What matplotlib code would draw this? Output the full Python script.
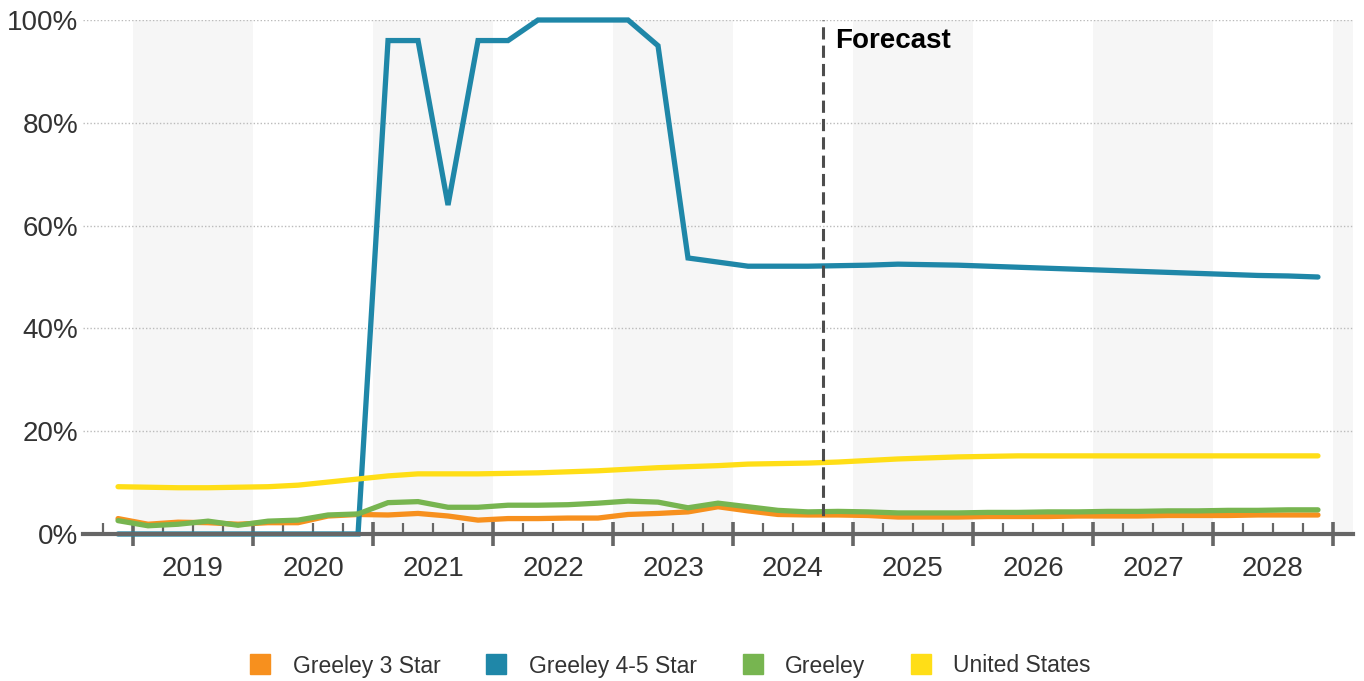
import matplotlib
matplotlib.use("Agg")
import matplotlib.pyplot as plt
from matplotlib.lines import Line2D
from matplotlib.ticker import FixedLocator, FixedFormatter, NullFormatter
import numpy as np
import pandas as pd

plt.rcParams['font.family'] = ['Liberation Sans', 'DejaVu Sans']

# Quarterly series, 2018 Q4 through 2028 Q4 (percent)
quarters = pd.period_range('2018Q4', '2028Q4', freq='Q')

greeley_3_star = [3.0, 1.9, 2.3, 2.2, 1.9, 2.2, 2.2, 3.5, 3.8, 3.7,
                  4.0, 3.5, 2.7, 3.0, 3.0, 3.1, 3.1, 3.8, 4.0, 4.3,
                  5.3, 4.5, 3.8, 3.7, 3.7, 3.6, 3.3, 3.3, 3.3, 3.4,
                  3.4, 3.4, 3.5, 3.5, 3.5, 3.6, 3.6, 3.6, 3.7, 3.7, 3.7]
greeley_4_5_star = [0, 0, 0, 0, 0, 0, 0, 0, 0, 96,
                    96, 64, 96, 96, 100, 100, 100, 100, 95, 53.7,
                    52.9, 52.1, 52.1, 52.1, 52.2, 52.3, 52.5, 52.4, 52.3, 52.1,
                    51.9, 51.7, 51.5, 51.3, 51.1, 50.9, 50.7, 50.5, 50.3, 50.2, 50.0]
greeley = [2.6, 1.6, 1.9, 2.5, 1.7, 2.5, 2.7, 3.7, 3.9, 6.1,
           6.3, 5.2, 5.2, 5.6, 5.6, 5.7, 6.0, 6.4, 6.2, 5.1,
           6.0, 5.3, 4.6, 4.3, 4.4, 4.3, 4.1, 4.1, 4.1, 4.2,
           4.2, 4.3, 4.3, 4.4, 4.4, 4.5, 4.5, 4.6, 4.6, 4.7, 4.7]
united_states = [9.2, 9.1, 9.0, 9.0, 9.1, 9.2, 9.5, 10.1, 10.7, 11.3,
                 11.7, 11.7, 11.7, 11.8, 11.9, 12.1, 12.3, 12.6, 12.9, 13.1,
                 13.3, 13.6, 13.7, 13.8, 14.0, 14.3, 14.6, 14.8, 15.0, 15.1,
                 15.2, 15.2, 15.2, 15.2, 15.2, 15.2, 15.2, 15.2, 15.2, 15.2, 15.2]

series_names = ['Greeley 3 Star', 'Greeley 4-5 Star', 'Greeley', 'United States']
series_colors = ['#F7901E', '#1F87A8', '#77B550', '#FFDE17']
year_labels = list(range(2019, 2029))
y_ticks = [0, 20, 40, 60, 80, 100]
forecast_start = 2024.75

# x position = middle of each quarter, in fractional years
x = np.array([p.year + (p.quarter - 1) / 4 + 0.125 for p in quarters])

fig = plt.figure(figsize=(13.64, 6.81), dpi=100)
ax = fig.add_axes([83 / 1364, 1 - 534 / 681, (1353 - 83) / 1364, (534 - 20) / 681])

x_min, x_max = 2018.583, 2029.167
ax.set_xlim(x_min, x_max)
ax.set_ylim(0, 100)

# alternating year bands
for yr in range(2019, 2030, 2):
    ax.axvspan(yr, min(yr + 1, x_max), color='#F6F6F6', zorder=0, lw=0)

# dotted horizontal gridlines
for v in y_ticks[1:]:
    ax.axhline(v, color='#BBBBBB', lw=1.0, ls=(0, (1, 1.5)), zorder=1)

data = [greeley_3_star, greeley_4_5_star, greeley, united_states]
for vals, name, col in zip(data, series_names, series_colors):
    ax.plot(x, vals, color=col, lw=3.8, label=name, zorder=3, clip_on=False,
            solid_joinstyle='miter', solid_capstyle='round')

# forecast divider
ax.axvline(forecast_start, color='#4D4D4D', lw=2.2, dashes=(4, 2), zorder=4)
ax.text(forecast_start + 0.1, 96.0, 'Forecast', fontsize=20, fontweight='bold',
        color='black', va='center', ha='left', zorder=5)

# axes styling
for s in ['left', 'right', 'top']:
    ax.spines[s].set_visible(False)
ax.spines['bottom'].set_color('#666666')
ax.spines['bottom'].set_linewidth(3)
ax.spines['bottom'].set_zorder(6)

ax.set_yticks(y_ticks)
ax.set_yticklabels([f'{v}%' for v in y_ticks])
ax.tick_params(axis='y', length=0, pad=3.5, labelsize=20, labelcolor='#333333')

year_bounds = list(range(2019, 2030))
ax.xaxis.set_major_locator(FixedLocator(year_bounds))
ax.xaxis.set_major_formatter(NullFormatter())
minor_pos = []
minor_lab = []
for yr in range(2018, 2030):
    for q in (0.25, 0.5, 0.75):
        pos = yr + q
        if x_min < pos < x_max:
            minor_pos.append(pos)
            minor_lab.append(str(yr) if (q == 0.5 and yr in year_labels) else '')
ax.xaxis.set_minor_locator(FixedLocator(minor_pos))
ax.xaxis.set_minor_formatter(FixedFormatter(minor_lab))
ax.tick_params(axis='x', which='major', direction='inout', length=17, width=2.6,
               color='#666666')
ax.tick_params(axis='x', which='minor', direction='in', length=8, width=1.6,
               color='#666666', pad=15.5, labelsize=20, labelcolor='#333333')

handles = [Line2D([0], [0], marker='s', ls='none', markersize=14,
                  markerfacecolor=c, markeredgecolor=c) for c in series_colors]
fig.legend(handles, series_names, loc='center', bbox_to_anchor=(671 / 1364, 1 - 666 / 681),
           ncol=4, frameon=False, fontsize=16.5, handlelength=0.8, handletextpad=1.0,
           columnspacing=2.05, labelcolor='#333333')

fig.savefig('out.png', dpi=100)
